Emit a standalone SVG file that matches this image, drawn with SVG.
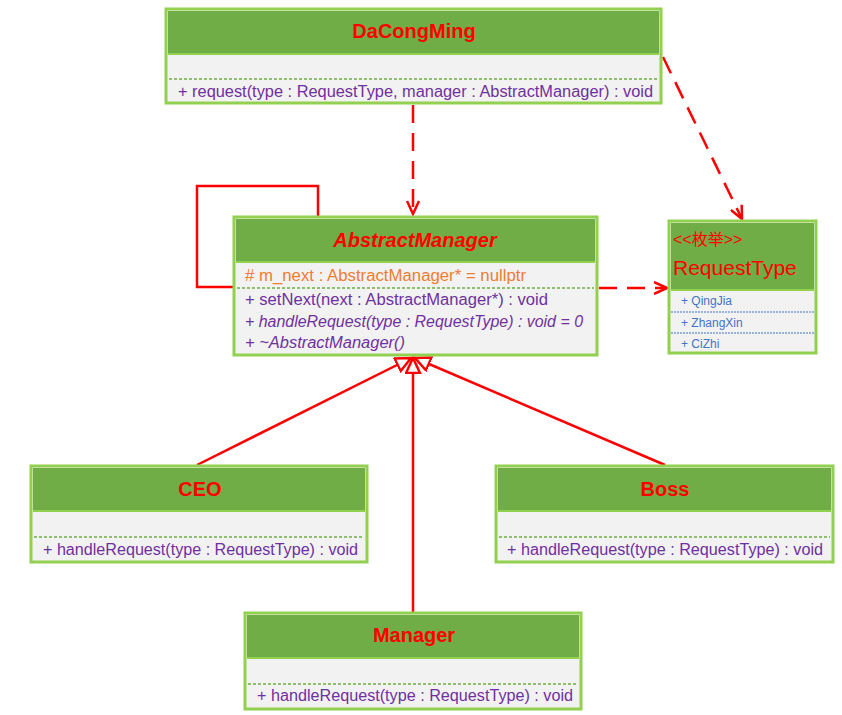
<svg xmlns="http://www.w3.org/2000/svg" width="842" height="715" viewBox="0 0 842 715">
<defs>
<style>
.box{fill:#F2F2F2;stroke:#92D050;stroke-width:3}
.hdr{fill:#70AD47}
.sep{stroke:#70AD47;stroke-width:1.5;stroke-dasharray:3 2}
.dot{stroke:#4472C4;stroke-width:1;stroke-dasharray:2 1}
.title{font-family:"Liberation Sans",Arial,sans-serif;font-size:20px;font-weight:bold;fill:#FF0000;text-anchor:middle}
.mt{font-family:"Liberation Sans",Arial,sans-serif;font-size:16px;fill:#7030A0}
.at{font-family:"Liberation Sans",Arial,sans-serif;font-size:16px;fill:#ED7D31}
.en{font-family:"Liberation Sans",Arial,sans-serif;font-size:12px;fill:#4472C4}
.dep{fill:none;stroke:#FF0000;stroke-width:2.5;stroke-dasharray:18 10}
.sol{fill:none;stroke:#FF0000;stroke-width:2.5}
</style>
<marker id="open" markerWidth="16" markerHeight="14" refX="14" refY="7" orient="auto" markerUnits="userSpaceOnUse">
<path d="M1,1 L14,7 L1,13" fill="none" stroke="#FF0000" stroke-width="2.5"/>
</marker>
<marker id="tri" markerWidth="18" markerHeight="18" refX="16" refY="8" orient="auto" markerUnits="userSpaceOnUse">
<path d="M1,1 L16,8 L1,15 Z" fill="#FFFFFF" stroke="#FF0000" stroke-width="2.5"/>
</marker>
</defs>
<rect width="842" height="715" fill="#FFFFFF"/>

<g id="connectors">
<path class="dep" d="M413,105 L413,214" marker-end="url(#open)"/>
<path class="dep" d="M663,57 L742,219" marker-end="url(#open)"/>
<path class="dep" d="M599,288 L667,288" marker-end="url(#open)"/>
<path class="sol" d="M318,216 L318,186 L197,186 L197,287 L233,287"/>
<path class="sol" d="M197,465 L411,358" marker-end="url(#tri)"/>
<path class="sol" d="M413,612 L413,358" marker-end="url(#tri)"/>
<path class="sol" d="M665,465 L415,358" marker-end="url(#tri)"/>
</g>

<g id="DaCongMing">
<rect class="box" x="166" y="9" width="495" height="94"/>
<rect class="hdr" x="168" y="11" width="491" height="42"/>
<line x1="168" y1="54" x2="659" y2="54" stroke="#92D050" stroke-width="2"/>
<line class="sep" x1="169" y1="79" x2="658" y2="79"/>
<text class="title" x="414" y="38">DaCongMing</text>
<text class="mt" x="178" y="97" textLength="475" lengthAdjust="spacingAndGlyphs">+ request(type : RequestType, manager : AbstractManager) : void</text>
</g>

<g id="AbstractManager">
<rect class="box" x="234" y="217" width="363" height="138"/>
<rect class="hdr" x="236" y="219" width="359" height="42"/>
<line x1="236" y1="262" x2="595" y2="262" stroke="#92D050" stroke-width="2"/>
<line class="sep" x1="237" y1="288" x2="594" y2="288"/>
<text class="title" x="415" y="247" font-style="italic" font-size="21">AbstractManager</text>
<text class="at" x="245" y="281" textLength="281" lengthAdjust="spacingAndGlyphs">&#35; m_next : AbstractManager* = nullptr</text>
<text class="mt" x="245" y="305" textLength="303" lengthAdjust="spacingAndGlyphs">+ setNext(next : AbstractManager*) : void</text>
<text class="mt" x="245" y="327" font-style="italic" textLength="338" lengthAdjust="spacingAndGlyphs">+ handleRequest(type : RequestType) : void = 0</text>
<text class="mt" x="245" y="348" font-style="italic" textLength="160" lengthAdjust="spacingAndGlyphs">+ ~AbstractManager()</text>
</g>

<g id="RequestType">
<rect class="box" x="669" y="221" width="147" height="132"/>
<rect class="hdr" x="671" y="223" width="143" height="66"/>
<line x1="671" y1="290" x2="814" y2="290" stroke="#92D050" stroke-width="2"/>
<text x="673" y="245" font-family="'Liberation Sans','Noto Sans CJK SC',sans-serif" font-size="16" fill="#FF0000">&lt;&lt;枚举&gt;&gt;</text>
<text x="673" y="275" font-family="'Liberation Sans',Arial,sans-serif" font-size="21" fill="#FF0000">RequestType</text>
<text class="en" x="681" y="305">+ QingJia</text>
<line class="dot" x1="671" y1="312" x2="814" y2="312"/>
<text class="en" x="681" y="327">+ ZhangXin</text>
<line class="dot" x1="671" y1="333" x2="814" y2="333"/>
<text class="en" x="681" y="348">+ CiZhi</text>
</g>

<g id="CEO">
<rect class="box" x="31" y="466" width="336" height="96"/>
<rect class="hdr" x="33" y="468" width="332" height="42"/>
<line x1="33" y1="511" x2="365" y2="511" stroke="#92D050" stroke-width="2"/>
<line class="sep" x1="34" y1="537" x2="364" y2="537"/>
<text class="title" x="200" y="496">CEO</text>
<text class="mt" x="43" y="555" textLength="315" lengthAdjust="spacingAndGlyphs">+ handleRequest(type : RequestType) : void</text>
</g>

<g id="Boss">
<rect class="box" x="496" y="466" width="337" height="96"/>
<rect class="hdr" x="498" y="468" width="333" height="42"/>
<line x1="498" y1="511" x2="831" y2="511" stroke="#92D050" stroke-width="2"/>
<line class="sep" x1="499" y1="537" x2="830" y2="537"/>
<text class="title" x="665" y="496">Boss</text>
<text class="mt" x="507" y="555" textLength="316" lengthAdjust="spacingAndGlyphs">+ handleRequest(type : RequestType) : void</text>
</g>

<g id="Manager">
<rect class="box" x="245" y="613" width="336" height="96"/>
<rect class="hdr" x="247" y="615" width="332" height="42"/>
<line x1="247" y1="658" x2="579" y2="658" stroke="#92D050" stroke-width="2"/>
<line class="sep" x1="248" y1="684" x2="578" y2="684"/>
<text class="title" x="414" y="642">Manager</text>
<text class="mt" x="257" y="701" textLength="316" lengthAdjust="spacingAndGlyphs">+ handleRequest(type : RequestType) : void</text>
</g>
</svg>
